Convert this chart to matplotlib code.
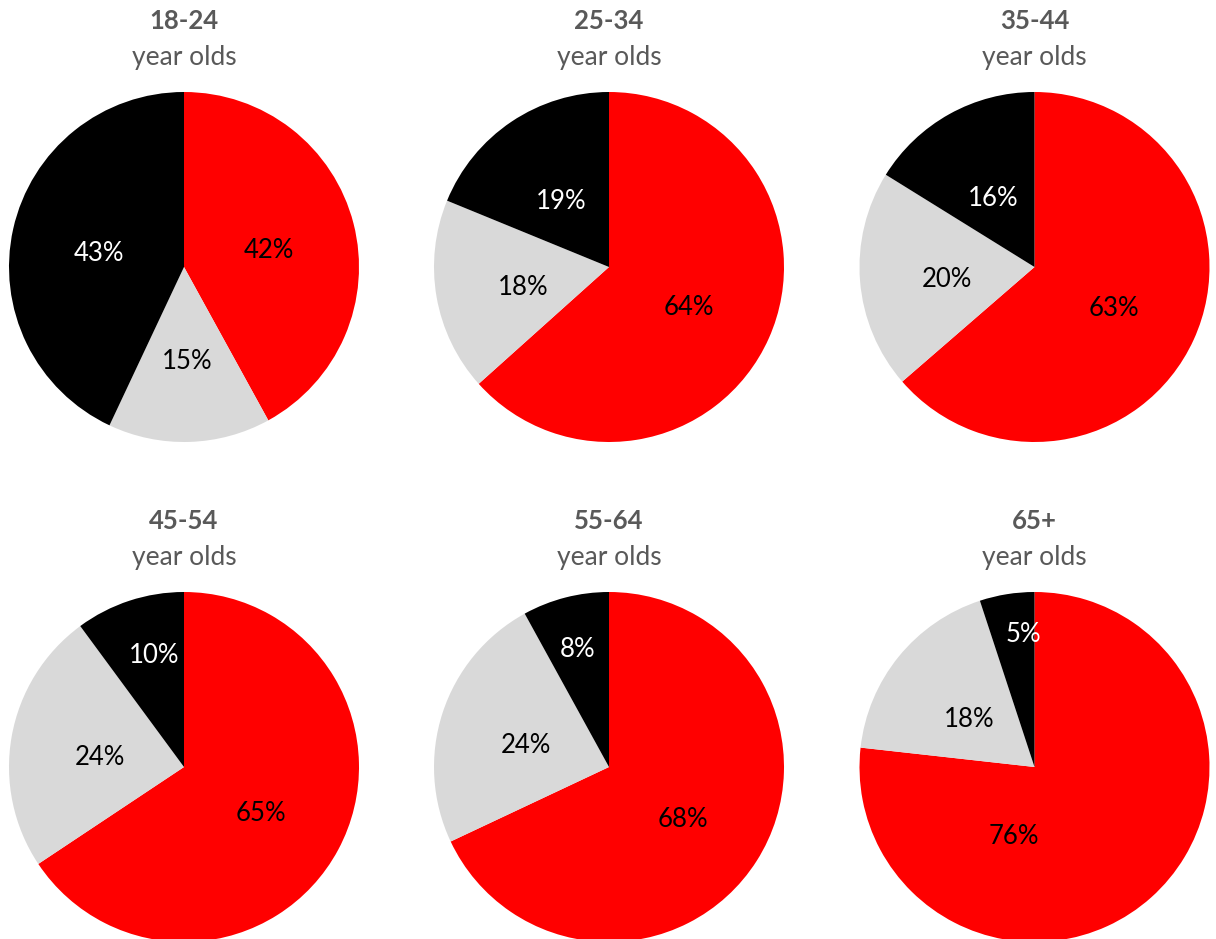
import numpy as np
import matplotlib
matplotlib.use("Agg")
import matplotlib.pyplot as plt

plt.rcParams['font.family'] = ['Lato', 'DejaVu Sans']

age_groups = ['18-24', '25-34', '35-44', '45-54', '55-64', '65+']
red_share = [42, 64, 63, 65, 68, 76]
gray_share = [15, 18, 20, 24, 24, 18]
black_share = [43, 19, 16, 10, 8, 5]

colors = ['#ff0000', '#d9d9d9', '#000000']
text_colors = ['black', 'black', 'white']

# where Excel put the labels: fraction of radius, and angle nudge (deg)
label_r = [[0.5, 0.51, 0.5], [0.5, 0.5, 0.49], [0.5, 0.5, 0.48],
           [0.5, 0.49, 0.69], [0.5, 0.5, 0.725], [0.386, 0.48, 0.79]]
label_shift = [[0, 0, 0], [0, 0, 0], [0, 0, 0],
               [0, 0, 4], [0, 0, 0], [60, 0, 4.6]]

W, H = 1216, 939
fig = plt.figure(figsize=(W / 100, H / 100), dpi=100)

cx = [184, 609, 1034.5]
cy = [267, 767]
R = 175

for i, grp in enumerate(age_groups):
    x0 = cx[i % 3]
    y0 = cy[i // 3]
    ax = fig.add_axes([(x0 - R) / W, (H - y0 - R) / H, 2 * R / W, 2 * R / H])
    vals = [red_share[i], gray_share[i], black_share[i]]
    ax.pie(vals, colors=colors, startangle=90, counterclock=False, radius=1,
           wedgeprops=dict(linewidth=0))
    ax.set_xlim(-1, 1)
    ax.set_ylim(-1, 1)
    ax.set_aspect('equal')
    ax.axis('off')

    total = float(sum(vals))
    start = 0.0
    for j, v in enumerate(vals):
        mid = (start + v / 2) / total * 360 + label_shift[i][j]
        start += v
        r = label_r[i][j]
        tx = r * np.sin(np.radians(mid))
        ty = r * np.cos(np.radians(mid)) - 0.03
        ax.text(tx, ty, f'{v}%', ha='center', va='center', fontsize=18.5,
                color=text_colors[j])

    fig.text(x0 / W, 1 - (y0 - 246) / H, grp, ha='center', va='center',
             fontsize=18.5, fontweight='bold', color='#595959')
    fig.text(x0 / W, 1 - (y0 - 209) / H, 'year olds', ha='center', va='center',
             fontsize=19, color='#595959')

fig.savefig('out.png', dpi=100)
